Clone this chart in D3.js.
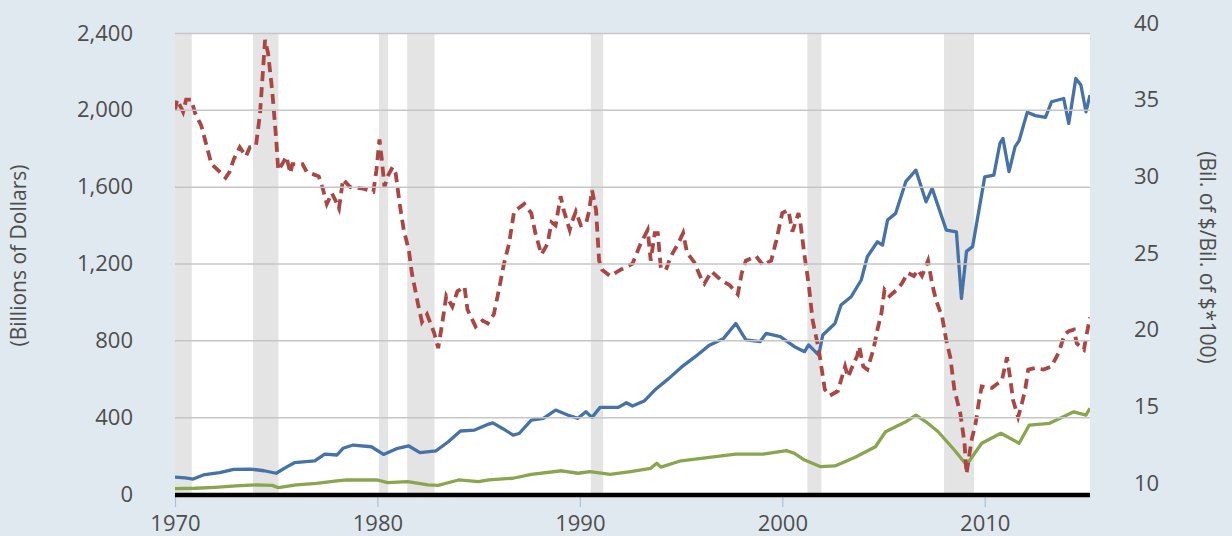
<!DOCTYPE html>
<html>
<head>
<meta charset="utf-8">
<script src="https://cdn.jsdelivr.net/npm/d3@7"></script>
<style>
  body { margin: 0; background: #e1e9f0; }
  text { font-family: "Open Sans", sans-serif; fill: #4d4d4d; }
</style>
</head>
<body>
<div id="chart"></div>
<script>
// recessions (fractional years)
const recStart = [1969.92, 1973.85, 1980.07, 1981.47, 1990.54, 2001.24, 2007.99];
const recEnd   = [1970.83, 1975.11, 1980.53, 1982.82, 1991.15, 2001.93, 2009.47];

// blue series, billions of dollars (left axis)
const blueYears = [1970.0, 1970.5, 1970.9, 1971.4, 1972.2, 1972.9, 1973.7, 1974.4, 1975.0, 1975.5,
  1975.9, 1976.9, 1977.4, 1978.0, 1978.3, 1978.8, 1979.7, 1980.3, 1981.0, 1981.55,
  1982.1, 1982.9, 1983.5, 1984.1, 1984.8, 1985.5, 1985.7, 1986.2, 1986.7, 1987.0,
  1987.6, 1988.2, 1988.8, 1989.4, 1989.9, 1990.3, 1990.6, 1991.0, 1991.9, 1992.3,
  1992.6, 1993.2, 1993.7, 1994.4, 1995.0, 1995.7, 1996.4, 1997.1, 1997.7, 1998.2,
  1998.9, 1999.2, 1999.9, 2000.6, 2001.1, 2001.3, 2001.8, 2002.0, 2002.6, 2002.9,
  2003.4, 2003.9, 2004.2, 2004.7, 2004.95, 2005.2, 2005.6, 2006.1, 2006.6, 2007.1,
  2007.4, 2008.1, 2008.6, 2008.85, 2009.1, 2009.4, 2010.0, 2010.45, 2010.75, 2010.9,
  2011.2, 2011.5, 2011.7, 2012.1, 2012.5, 2013.0, 2013.3, 2013.9, 2014.15, 2014.5,
  2014.75, 2015.0, 2015.2];
const blueValues = [88, 84, 78, 99, 111, 128, 130, 121, 108, 140,
  163, 172, 208, 203, 238, 255, 246, 206, 238, 250,
  215, 225, 272, 328, 333, 364, 370, 340, 307, 315,
  385, 394, 437, 411, 394, 428, 399, 451, 451, 475,
  458, 486, 541, 602, 659, 715, 775, 810, 888, 802,
  793, 836, 819, 767, 741, 776, 723, 828, 888, 984,
  1027, 1114, 1235, 1313, 1296, 1426, 1461, 1626, 1686, 1521,
  1591, 1374, 1365, 1018, 1263, 1288, 1651, 1660, 1825, 1851,
  1678, 1808, 1840, 1987, 1970, 1961, 2042, 2059, 1929, 2163,
  2129, 1990, 2077];

// green series, billions of dollars (left axis)
const greenYears = [1970.0, 1971.0, 1972.0, 1973.0, 1974.0, 1974.8, 1975.1, 1976.0, 1977.0, 1978.0,
  1978.5, 1980.0, 1980.5, 1981.5, 1982.5, 1983.0, 1984.0, 1985.0, 1985.5, 1986.7,
  1987.6, 1989.1, 1989.9, 1990.5, 1991.5, 1992.5, 1993.5, 1993.8, 1994.0, 1995.0,
  1996.4, 1997.7, 1999.05, 2000.2, 2000.6, 2001.1, 2001.9, 2002.6, 2003.6, 2004.6,
  2005.1, 2006.1, 2006.6, 2007.1, 2007.7, 2008.5, 2009.1, 2009.85, 2010.8, 2011.7,
  2012.2, 2013.2, 2014.4, 2015.0, 2015.2];
const greenValues = [28, 30, 35, 42, 47, 45, 33, 48, 55, 68,
  73, 73, 59, 64, 47, 45, 73, 64, 73, 82,
  102, 121, 108, 116, 102, 116, 134, 160, 140, 173,
  191, 208, 208, 226, 212, 177, 142, 146, 191, 246,
  324, 376, 411, 376, 324, 229, 151, 264, 316, 264,
  359, 368, 428, 411, 446];

// red dashed series, Bil. of $/Bil. of $*100 (right axis)
const redYears = [1970.0, 1970.1, 1970.4, 1970.55, 1970.8, 1971.0, 1971.3, 1971.8, 1972.2, 1972.5,
  1972.7, 1972.9, 1973.2, 1973.5, 1973.7, 1974.0, 1974.2, 1974.45, 1974.6, 1974.8,
  1975.0, 1975.1, 1975.3, 1975.5, 1975.7, 1975.8, 1976.3, 1976.5, 1977.1, 1977.3,
  1977.5, 1977.75, 1977.9, 1978.1, 1978.3, 1978.65, 1979.3, 1979.8, 1979.95, 1980.1,
  1980.2, 1980.35, 1980.5, 1980.75, 1980.9, 1981.1, 1981.3, 1981.55, 1981.7, 1982.0,
  1982.2, 1982.45, 1982.8, 1983.0, 1983.2, 1983.4, 1983.7, 1983.95, 1984.3, 1984.45,
  1984.85, 1985.2, 1985.45, 1985.75, 1986.0, 1986.25, 1986.5, 1986.75, 1987.25, 1987.6,
  1987.8, 1988.1, 1988.4, 1988.6, 1988.8, 1989.05, 1989.2, 1989.5, 1989.6, 1989.8,
  1990.05, 1990.3, 1990.45, 1990.6, 1990.8, 1990.95, 1991.1, 1991.5, 1992.0, 1992.6,
  1993.0, 1993.35, 1993.5, 1993.7, 1993.85, 1994.0, 1994.25, 1994.5, 1994.85, 1995.1,
  1995.3, 1995.65, 1996.0, 1996.15, 1996.5, 1997.0, 1997.4, 1997.8, 1998.0, 1998.2,
  1998.7, 1999.05, 1999.45, 1999.7, 2000.0, 2000.3, 2000.5, 2000.8, 2000.9, 2001.1,
  2001.3, 2001.5, 2001.8, 2001.95, 2002.1, 2002.35, 2002.75, 2002.9, 2003.1, 2003.25,
  2003.4, 2003.7, 2003.8, 2004.0, 2004.2, 2004.5, 2004.7, 2004.9, 2005.05, 2005.3,
  2005.65, 2005.9, 2006.2, 2006.5, 2006.7, 2006.9, 2007.2, 2007.4, 2007.6, 2007.9,
  2008.1, 2008.3, 2008.5, 2008.8, 2009.0, 2009.1, 2009.2, 2009.35, 2009.55, 2009.7,
  2009.85, 2010.35, 2010.85, 2011.1, 2011.25, 2011.4, 2011.65, 2011.8, 2012.0, 2012.15,
  2012.5, 2012.9, 2013.3, 2013.65, 2013.95, 2014.15, 2014.4, 2014.55, 2014.9, 2015.05,
  2015.2];
const redValues = [34.3, 35.0, 34.2, 35.0, 35.0, 34.1, 33.3, 30.8, 30.3, 29.9,
  30.3, 31.1, 31.9, 31.3, 31.9, 32.0, 34.1, 38.9, 38.0, 35.6,
  32.4, 30.4, 30.8, 31.3, 30.2, 30.8, 30.8, 30.3, 30.0, 29.2,
  28.2, 28.9, 28.5, 27.9, 29.8, 29.3, 29.2, 29.0, 30.4, 32.4,
  31.3, 29.3, 30.0, 30.6, 30.2, 28.2, 26.5, 25.2, 23.7, 21.7,
  20.5, 21.0, 19.8, 18.8, 20.4, 22.2, 21.5, 22.5, 22.8, 21.3,
  20.2, 20.6, 20.4, 21.0, 22.6, 24.3, 25.6, 27.7, 28.2, 27.6,
  26.3, 24.9, 25.6, 27.0, 26.8, 28.7, 27.8, 26.5, 27.0, 27.7,
  26.8, 26.9, 27.7, 29.1, 27.8, 24.5, 23.9, 23.5, 23.9, 24.3,
  25.6, 26.5, 24.5, 26.3, 26.3, 24.0, 23.9, 24.8, 25.6, 26.3,
  25.0, 24.4, 23.3, 23.0, 23.8, 23.2, 22.9, 22.3, 23.7, 24.5,
  24.8, 24.2, 24.5, 25.8, 27.6, 27.8, 26.4, 27.6, 26.9, 24.8,
  23.0, 20.6, 18.7, 17.4, 16.1, 15.7, 16.0, 16.7, 17.6, 16.9,
  17.4, 18.3, 18.9, 17.6, 17.4, 18.7, 20.0, 21.1, 22.6, 22.2,
  22.6, 23.0, 23.7, 23.5, 23.9, 23.5, 24.5, 23.0, 21.9, 20.8,
  19.3, 18.2, 16.1, 14.5, 12.6, 10.6, 11.5, 12.8, 13.9, 15.2,
  16.3, 16.2, 16.7, 18.2, 16.9, 15.4, 14.3, 15.0, 16.1, 17.4,
  17.5, 17.4, 17.6, 18.5, 19.7, 19.9, 20.0, 19.1, 18.7, 19.8,
  20.8];

const leftTicks = [0, 400, 800, 1200, 1600, 2000, 2400];
const rightTicks = [10, 15, 20, 25, 30, 35, 40];
const yearTicks = [1970, 1980, 1990, 2000, 2010];

const W = 1232, H = 536;
const plotL = 175, plotR = 1090, plotT = 33, plotB = 494;

const svg = d3.select("#chart").append("svg")
  .attr("width", W)
  .attr("height", H);

svg.append("rect").attr("width", W).attr("height", H).attr("fill", "#e1e9f0");

const x = d3.scaleLinear().domain([1970, 2015.2]).range([plotL, plotR]);
const yL = d3.scaleLinear().domain([0, 2400]).range([plotB, plotT]);
const yR = d3.scaleLinear().domain([10, 40]).range([483, 23]);

svg.append("rect")
  .attr("x", plotL).attr("y", plotT)
  .attr("width", plotR - plotL).attr("height", plotB - plotT)
  .attr("fill", "#fff");

svg.append("clipPath").attr("id", "clip")
  .append("rect")
  .attr("x", plotL).attr("y", plotT - 10)
  .attr("width", plotR - plotL).attr("height", plotB - plotT + 10);

const plot = svg.append("g").attr("clip-path", "url(#clip)");

// recession shading
plot.selectAll("rect.rec")
  .data(recStart)
  .enter()
  .append("rect")
  .attr("class", "rec")
  .attr("x", (d) => x(d))
  .attr("y", plotT)
  .attr("width", (d, i) => x(recEnd[i]) - x(d))
  .attr("height", plotB - plotT)
  .attr("fill", "#e4e4e4");

// grid
const grid = svg.append("g")
  .attr("transform", "translate(" + plotL + ",0)")
  .call(d3.axisLeft(yL).tickValues(leftTicks).tickSize(-(plotR - plotL)).tickFormat(""));
grid.select(".domain").remove();
grid.selectAll("line").attr("stroke", "#c6c6c6").attr("stroke-width", 1.5);

// left labels
const yAxisL = svg.append("g")
  .attr("transform", "translate(133,0)")
  .call(d3.axisLeft(yL).tickValues(leftTicks).tickSize(0).tickPadding(0).tickFormat(d3.format(",")));
yAxisL.select(".domain").remove();
yAxisL.selectAll("text").style("font-size", "22px").attr("fill", "#4d4d4d")
  .attr("font-family", null);

// right labels
const yAxisR = svg.append("g")
  .attr("transform", "translate(1134,0)")
  .call(d3.axisRight(yR).tickValues(rightTicks).tickSize(0).tickPadding(0));
yAxisR.select(".domain").remove();
yAxisR.selectAll("text").style("font-size", "22px").attr("fill", "#4d4d4d")
  .attr("font-family", null);

// x axis
const xAxis = svg.append("g")
  .attr("transform", "translate(0," + (plotB + 1) + ")")
  .call(d3.axisBottom(x).tickValues(yearTicks).tickSize(12).tickPadding(6).tickFormat(d3.format("d")));
xAxis.select(".domain").remove();
xAxis.selectAll("line").attr("stroke", "#a9c1d9").attr("stroke-width", 1.2);
xAxis.selectAll("text").style("font-size", "22px").attr("fill", "#4d4d4d")
  .attr("font-family", null).attr("y", 36).attr("dy", null);

// lines
const lineL = d3.line().x((d) => x(d[0])).y((d) => yL(d[1]));
const lineR = d3.line().x((d) => x(d[0])).y((d) => yR(d[1]));

plot.append("path")
  .datum(d3.zip(blueYears, blueValues))
  .attr("d", lineL)
  .attr("fill", "none")
  .attr("stroke", "#4572a7")
  .attr("stroke-width", 3.3)
  .attr("stroke-linejoin", "round");

plot.append("path")
  .datum(d3.zip(greenYears, greenValues))
  .attr("d", lineL)
  .attr("fill", "none")
  .attr("stroke", "#89a54e")
  .attr("stroke-width", 3.3)
  .attr("stroke-linejoin", "round");

plot.append("path")
  .datum(d3.zip(redYears, redValues))
  .attr("d", lineR)
  .attr("fill", "none")
  .attr("stroke", "#aa4643")
  .attr("stroke-width", 3.8)
  .attr("stroke-dasharray", "10,6");

// zero baseline
svg.append("line")
  .attr("x1", plotL).attr("x2", plotR)
  .attr("y1", yL(0) + 1).attr("y2", yL(0) + 1)
  .attr("stroke", "#000")
  .attr("stroke-width", 4.5);

// axis titles
svg.append("text")
  .attr("transform", "translate(26," + ((plotT + plotB) / 2 - 8) + ") rotate(-90)")
  .attr("text-anchor", "middle")
  .style("font-size", "21px")
  .text("(Billions of Dollars)");

svg.append("text")
  .attr("transform", "translate(1200," + ((plotT + plotB) / 2 - 6) + ") rotate(90)")
  .attr("text-anchor", "middle")
  .style("font-size", "21px")
  .text("(Bil. of $/Bil. of $*100)");
</script>
</body>
</html>
